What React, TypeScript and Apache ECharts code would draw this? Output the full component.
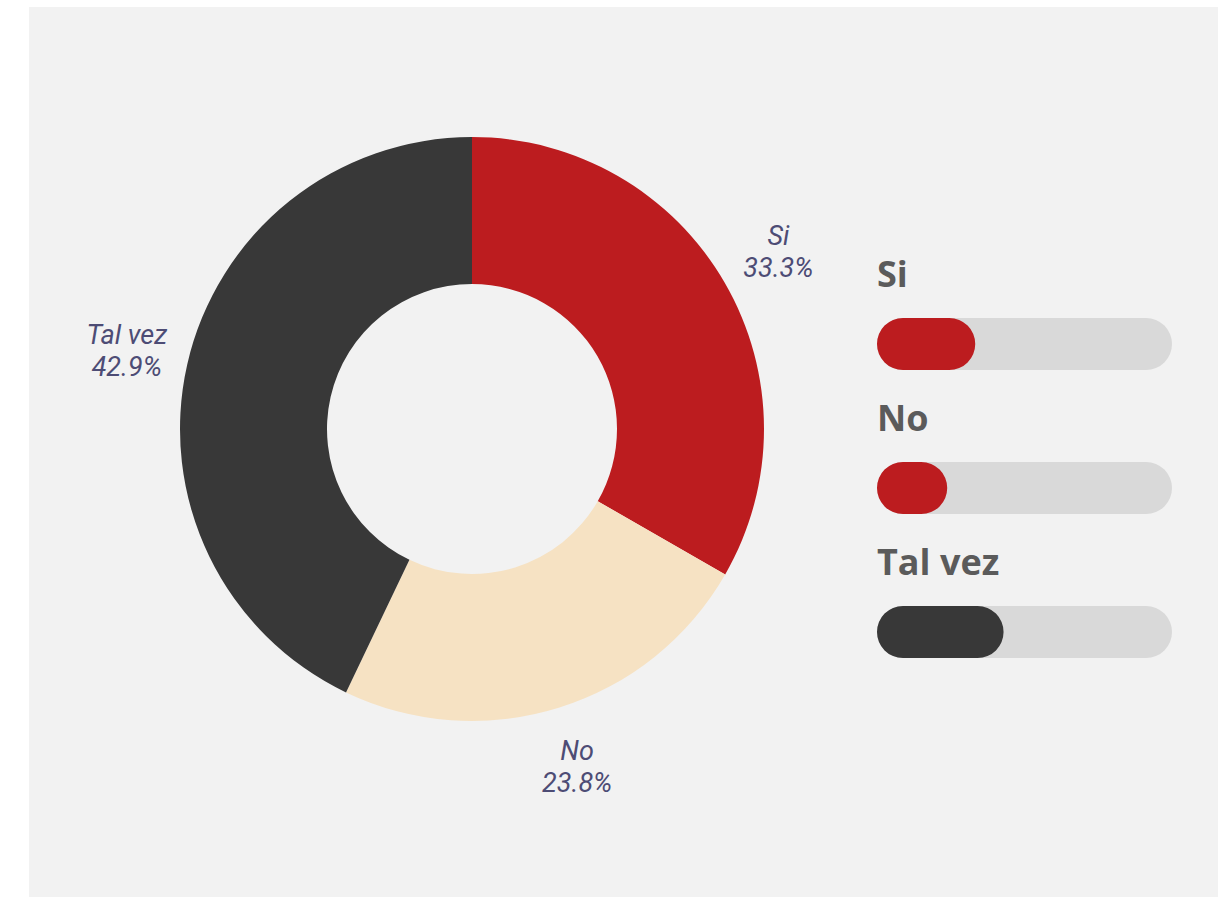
import React, { useEffect, useRef } from "react";
import * as echarts from "echarts";

const categories = ["Si", "No", "Tal vez"];
const values = [33.3, 23.8, 42.9];

const PIE_COLORS = ["#bc1c1f", "#f6e2c3", "#383838"];
const BAR_COLORS = ["#bc1c1f", "#bc1c1f", "#383838"];

export default function App() {
  const ref = useRef<HTMLDivElement>(null);
  useEffect(() => {
    const chart = echarts.init(ref.current!, null, { renderer: "svg" });
    const pieData = categories.map((name, i) => ({
      name,
      value: values[i],
      itemStyle: { color: PIE_COLORS[i] },
    }));
    const labelData = categories.map((name, i) => ({ name, value: values[i] }));
    const barData = values.map((v, i) => ({ value: v, itemStyle: { color: BAR_COLORS[i] } }));
    chart.setOption({
      animation: false,
      backgroundColor: "#ffffff",
      graphic: [
        {
          type: "rect",
          z: 0,
          shape: { x: 29, y: 7, width: 1189, height: 890 },
          style: { fill: "#f2f2f2" },
        },
      ],
      grid: { left: 877, top: 272, width: 295, height: 432 },
      xAxis: { type: "value", min: 0, max: 100, show: false },
      yAxis: { type: "category", data: categories, inverse: true, show: false },
      series: [
        {
          type: "pie",
          center: [472, 429],
          radius: [145, 292],
          startAngle: 90,
          clockwise: true,
          silent: true,
          label: { show: false },
          labelLine: { show: false },
          data: pieData,
        },
        {
          type: "pie",
          center: [472, 429],
          radius: [336, 366],
          startAngle: 90,
          clockwise: true,
          silent: true,
          itemStyle: { color: "rgba(0,0,0,0)" },
          labelLine: { show: false },
          label: {
            show: true,
            position: "inside",
            formatter: (p: any) => `${p.name}\n${Number(p.value).toFixed(1)}%`,
            fontFamily: "Roboto",
            fontStyle: "italic",
            fontSize: 27,
            lineHeight: 32,
            color: "#4d4c75",
            align: "center",
          },
          data: labelData,
        },
        {
          type: "bar",
          barWidth: 52,
          showBackground: true,
          backgroundStyle: { color: "#d9d9d9", borderRadius: 26 },
          itemStyle: { borderRadius: 26 },
          label: {
            show: true,
            position: [0, -27],
            align: "left",
            verticalAlign: "bottom",
            formatter: "{b}",
            fontFamily: "Open Sans",
            fontWeight: "bold",
            fontSize: 36,
            color: "#5b5b5b",
          },
          data: barData,
        },
      ],
    });
    return () => chart.dispose();
  }, []);
  return (
    <div
      ref={ref}
      style={{ position: "absolute", left: 0, top: 0, width: 1218, height: 897 }}
    />
  );
}
